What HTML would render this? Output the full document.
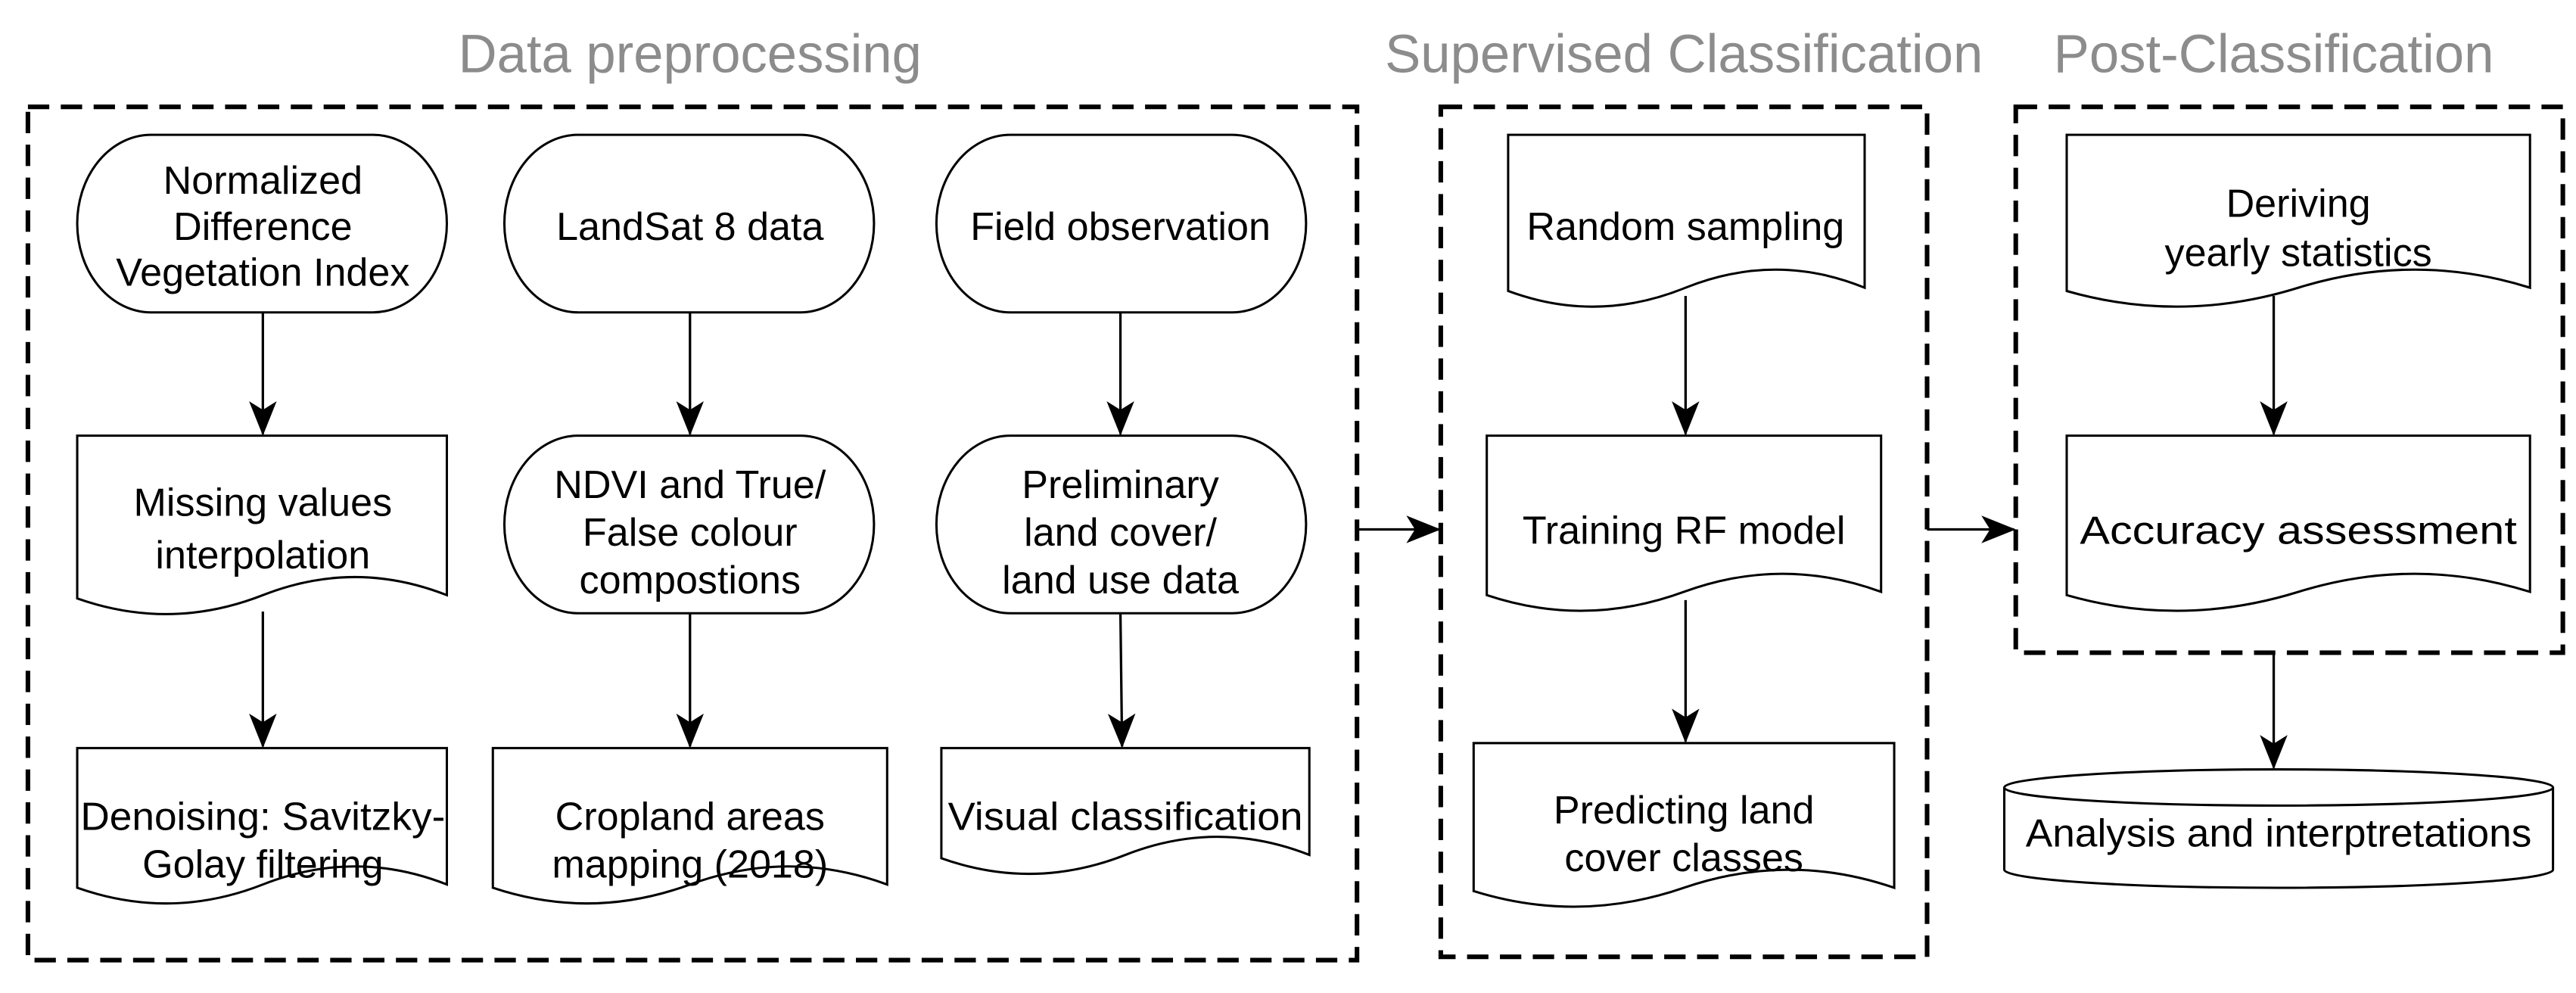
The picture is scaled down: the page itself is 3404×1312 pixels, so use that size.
<!DOCTYPE html>
<html><head><meta charset="utf-8"><style>
html,body{margin:0;padding:0;background:#fff;}
svg{display:block;}
text{font-family:"Liberation Sans",Arial,sans-serif;}
</style></head><body>
<svg width="3404" height="1312" viewBox="0 0 1568 604" preserveAspectRatio="none" xmlns="http://www.w3.org/2000/svg">
<defs>
<marker id="b" viewBox="0 0 20 20" refX="19" refY="10" markerWidth="21" markerHeight="21" orient="auto" markerUnits="userSpaceOnUse">
<path d="M0,2 L20,10 L0,18 L5,10 z" fill="#000"/>
</marker>
</defs>
<g font-size="33" fill="#8c8c8c" text-anchor="middle">
<text x="420" y="44" textLength="282" lengthAdjust="spacingAndGlyphs">Data preprocessing</text>
<text x="1025" y="44" textLength="364" lengthAdjust="spacingAndGlyphs">Supervised Classification</text>
<text x="1384" y="44" textLength="268" lengthAdjust="spacingAndGlyphs">Post-Classification</text>
</g>
<g fill="none" stroke="#000" stroke-width="2.8" stroke-dasharray="13,7">
<rect x="17" y="65" width="809" height="519"/>
<rect x="877" y="65" width="296" height="517"/>
<rect x="1227" y="65" width="333" height="332"/>
</g>
<g fill="none" stroke="#000" stroke-width="1.4">
<rect x="47" y="82" width="225" height="108" rx="45" ry="54"/>
<rect x="307" y="82" width="225" height="108" rx="45" ry="54"/>
<rect x="570" y="82" width="225" height="108" rx="45" ry="54"/>
<rect x="307" y="265" width="225" height="108" rx="45" ry="54"/>
<rect x="570" y="265" width="225" height="108" rx="45" ry="54"/>
<path d="M47,265 H272 V362 Q216,340 160,362 Q104,384 47,364 Z"/>
<path d="M47,455 H272 V538 Q216,516 160,538 Q104,560 47,540 Z"/>
<path d="M300,455 H540 V538 Q480,516 420,538 Q360,560 300,540 Z"/>
<path d="M573,455 H797 V520 Q741,498 685,520 Q629,542 573,522 Z"/>
<path d="M918,82 H1135 V175 Q1081,153 1026,175 Q972,197 918,177 Z"/>
<path d="M905,265 H1145 V360 Q1085,338 1025,360 Q965,382 905,362 Z"/>
<path d="M897,452 H1153 V540 Q1089,518 1025,540 Q961,562 897,542 Z"/>
<path d="M1258,82 H1540 V175 Q1470,153 1399,175 Q1328,197 1258,177 Z"/>
<path d="M1258,265 H1540 V360 Q1470,338 1399,360 Q1328,382 1258,362 Z"/>
<path d="M1220,479 V529 A167,11 0 0 0 1554,529 V479"/>
<ellipse cx="1387" cy="479" rx="167" ry="11"/>
</g>
<g stroke="#000" stroke-width="1.5" fill="none">
<line x1="160" y1="190" x2="160" y2="264" marker-end="url(#b)"/>
<line x1="160" y1="372" x2="160" y2="454" marker-end="url(#b)"/>
<line x1="420" y1="190" x2="420" y2="264" marker-end="url(#b)"/>
<line x1="420" y1="373" x2="420" y2="454" marker-end="url(#b)"/>
<line x1="682" y1="190" x2="682" y2="264" marker-end="url(#b)"/>
<line x1="682" y1="373" x2="683" y2="454" marker-end="url(#b)"/>
<line x1="1026" y1="180" x2="1026" y2="264" marker-end="url(#b)"/>
<line x1="1026" y1="365" x2="1026" y2="451" marker-end="url(#b)"/>
<line x1="1384" y1="180" x2="1384" y2="264" marker-end="url(#b)"/>
<line x1="1384" y1="397" x2="1384" y2="467" marker-end="url(#b)"/>
<line x1="826" y1="322" x2="876" y2="322" marker-end="url(#b)"/>
<line x1="1173" y1="322" x2="1226" y2="322" marker-end="url(#b)"/>
</g>
<g font-size="24" fill="#000" text-anchor="middle" dominant-baseline="central">
<text x="160" y="110">Normalized</text>
<text x="160" y="138">Difference</text>
<text x="160" y="166">Vegetation Index</text>
<text x="420" y="138">LandSat 8 data</text>
<text x="682" y="138">Field observation</text>
<text x="160" y="306">Missing values</text>
<text x="160" y="338">interpolation</text>
<text x="420" y="295">NDVI and True/</text>
<text x="420" y="324">False colour</text>
<text x="420" y="353">compostions</text>
<text x="682" y="295">Preliminary</text>
<text x="682" y="324">land cover/</text>
<text x="682" y="353">land use data</text>
<text x="160" y="497" textLength="222" lengthAdjust="spacingAndGlyphs">Denoising: Savitzky-</text>
<text x="160" y="526">Golay filtering</text>
<text x="420" y="497">Cropland areas</text>
<text x="420" y="526">mapping (2018)</text>
<text x="685" y="497" textLength="216" lengthAdjust="spacingAndGlyphs">Visual classification</text>
<text x="1026" y="138">Random sampling</text>
<text x="1025" y="323">Training RF model</text>
<text x="1025" y="493">Predicting land</text>
<text x="1025" y="522">cover classes</text>
<text x="1399" y="124">Deriving</text>
<text x="1399" y="154">yearly statistics</text>
<text x="1399" y="323" textLength="266" lengthAdjust="spacingAndGlyphs">Accuracy assessment</text>
<text x="1387" y="507" textLength="308" lengthAdjust="spacingAndGlyphs">Analysis and interptretations</text>
</g>
</svg>
</body></html>
